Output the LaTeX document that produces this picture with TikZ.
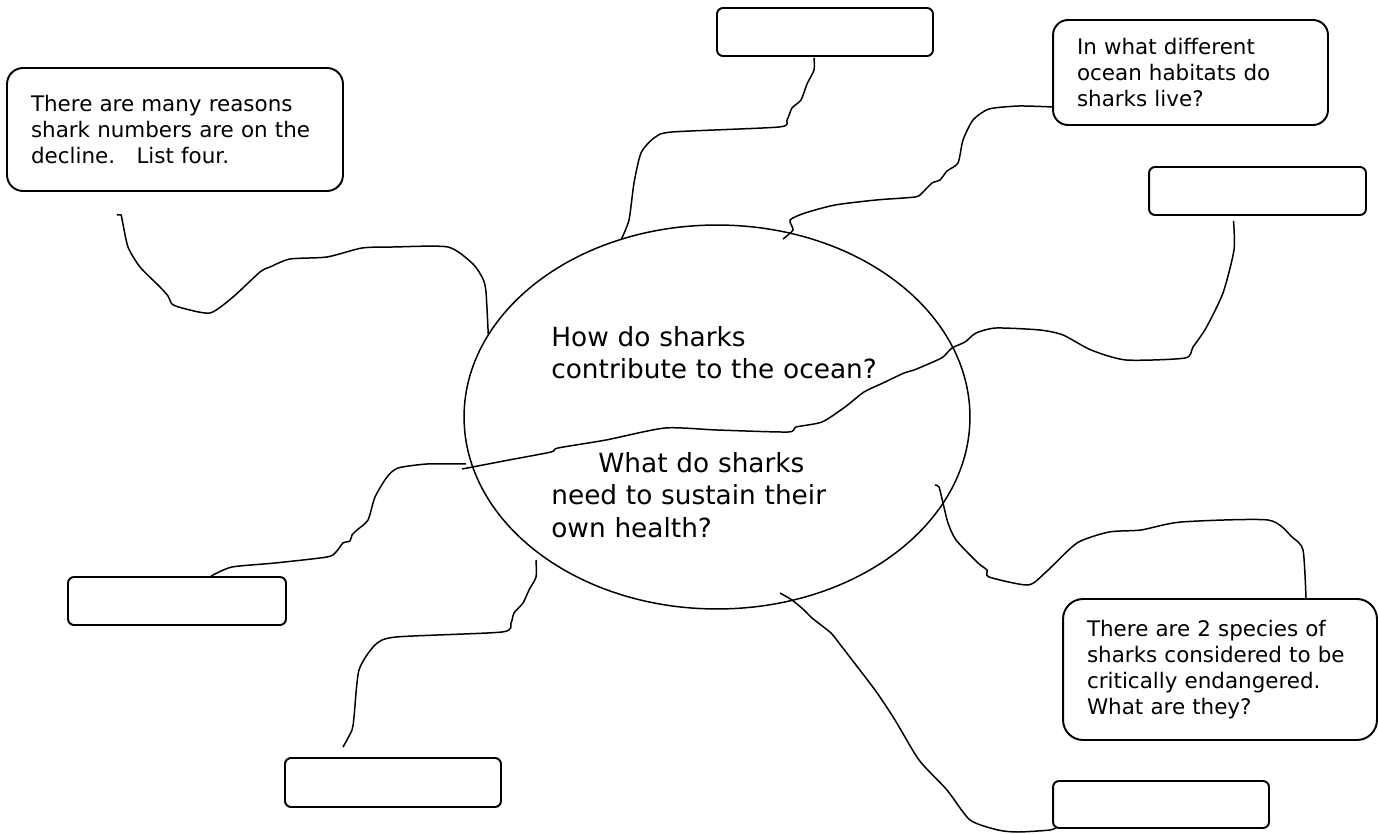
\documentclass[tikz,border=0pt]{standalone}
\usepackage{fontspec}
\setmainfont{DejaVu Sans}
\usetikzlibrary{calc,shapes.geometric}

\newcommand{\boxfont}{\fontsize{12.2}{14.8}\selectfont}
\newcommand{\hubfont}{\fontsize{15}{18.5}\selectfont}

\begin{document}
\begin{tikzpicture}[x=0.02cm, y=-0.02cm,
  qbox/.style={draw, line width=1.1pt, align=left, inner xsep=0.48cm, font=\boxfont},
  blank/.style={draw, line width=1.1pt, rounded corners=0.12cm, minimum width=4.32cm, minimum height=0.96cm},
  wire/.style={line width=0.85pt},
  hubtext/.style={anchor=base west, inner sep=0pt, align=left, text width=8cm, font=\hubfont}]

\useasboundingbox (0,0) rectangle (1378,834);

% centre
\node[draw, ellipse, line width=0.85pt, minimum width=10.12cm, minimum height=7.68cm] (hub) at (717,417) {};
\node[hubtext] (contrib) at (551,346) {How do sharks\\contribute to the ocean?};
\node[hubtext] (health) at (551,472) {\hspace*{0.94cm}What do sharks\\need to sustain their\\own health?};

% question boxes
\node[qbox, rounded corners=0.32cm, minimum width=6.72cm, minimum height=2.46cm, text width=5.76cm] (reasons) at (175,129.5)
  {There are many reasons\\shark numbers are on the\\decline.\ \ \ List four.};
\node[qbox, rounded corners=0.3cm, minimum width=5.5cm, minimum height=2.1cm, text width=4.54cm] (habitats) at (1190.5,72.5)
  {In what different\\ocean habitats do\\sharks live?};
\node[qbox, rounded corners=0.4cm, minimum width=6.28cm, minimum height=2.82cm, text width=5.32cm] (species) at (1220,669.5)
  {There are 2 species of\\sharks considered to be\\critically endangered.\\What are they?};

% empty answer boxes
\node[blank] (topbox) at (825,32) {};
\node[blank, minimum width=4.34cm] (rightbox) at (1257.5,191) {};
\node[blank, minimum width=4.36cm] (leftbox) at (177,601) {};
\node[blank, minimum height=0.98cm] (blbox) at (393,782.5) {};
\node[blank, minimum height=0.94cm] (brbox) at (1161,804.5) {};

% loose ends of the lines
\coordinate (hookA) at (117,215);
\coordinate (topfoot) at ($(topbox.south)+(-11,1)$);
\coordinate (habfoot) at ($(habitats.south west)+(0,-19)$);
\coordinate (rightfoot) at ($(rightbox.south)+(-24,5)$);
\coordinate (leftfoot) at ($(leftbox.north)+(34,0)$);
\coordinate (blfoot) at ($(blbox.north)+(-50,-10)$);
\coordinate (specfoot) at ($(species.north)+(86,0)$);
\coordinate (brfoot) at ($(brbox.south west)+(5,-2)$);

% lines
\draw[wire] plot[smooth, tension=.4] coordinates {(hookA) (121,215) (122,219) (128,247) (140,267) (160,287) (168,296) (172,304) (182,308) (210,313) (233,297) (260,272) (270,267) (290,259) (327,257) (362,248) (393,247) (448,247) (473,264) (483,279) (486,292) (hub.160)};
\draw[wire] plot[smooth, tension=.4] coordinates {(topfoot) (814,70) (807,84) (801,100) (792,108) (787,120) (779,127) (672,132) (654,138) (641,153) (634,183) (629,220) (621,240)};
\draw[wire] plot[smooth, tension=.4] coordinates {(habfoot) (1019,106) (989,109) (973,120) (963,140) (958,163) (947,171) (940,180) (932,183) (922,193) (915,197) (876,200) (835,205) (805,213) (790,220) (793,230) (783,239)};
\draw[wire] plot[smooth, tension=.4] coordinates {(rightfoot) (1234,250) (1223,293) (1206,328) (1193,347) (1185,358) (1126,360) (1091,350) (1063,335) (1040,330) (996,328) (976,333) (965,342) (952,348) (943,357) (933,362) (914,370) (904,373) (883,383) (864,392) (845,407) (822,422) (796,427) (788,432) (717,430) (665,428) (606,440) (558,448) (551,452) (509,460) (462,469)};
\draw[wire] plot[smooth, tension=.4] coordinates {(leftfoot) (232,567) (275,563) (327,557) (336,552) (343,543) (350,541) (352,535) (357,530) (368,520) (375,497) (387,477) (398,468) (427,464) (466,464)};
\draw[wire] plot[smooth, tension=.4] coordinates {(536,560) (536,577) (529,590) (523,603) (514,613) (511,623) (502,632) (396,637) (375,645) (359,670) (354,717) (352,730) (blfoot)};
\draw[wire] plot[smooth, tension=.4] coordinates {(935,485) (939,487) (943,503) (948,523) (956,540) (978,563) (987,570) (989,577) (1028,585) (1046,572) (1077,543) (1109,532) (1141,530) (1181,522) (1268,520) (1292,537) (1303,550) (specfoot)};
\draw[wire] plot[smooth, tension=.4] coordinates {(780,593) (792,600) (804,610) (812,618) (831,633) (839,643) (875,690) (895,720) (919,760) (947,790) (970,820) (998,830) (1018,832) (1050,830) (brfoot)};
\end{tikzpicture}
\end{document}
